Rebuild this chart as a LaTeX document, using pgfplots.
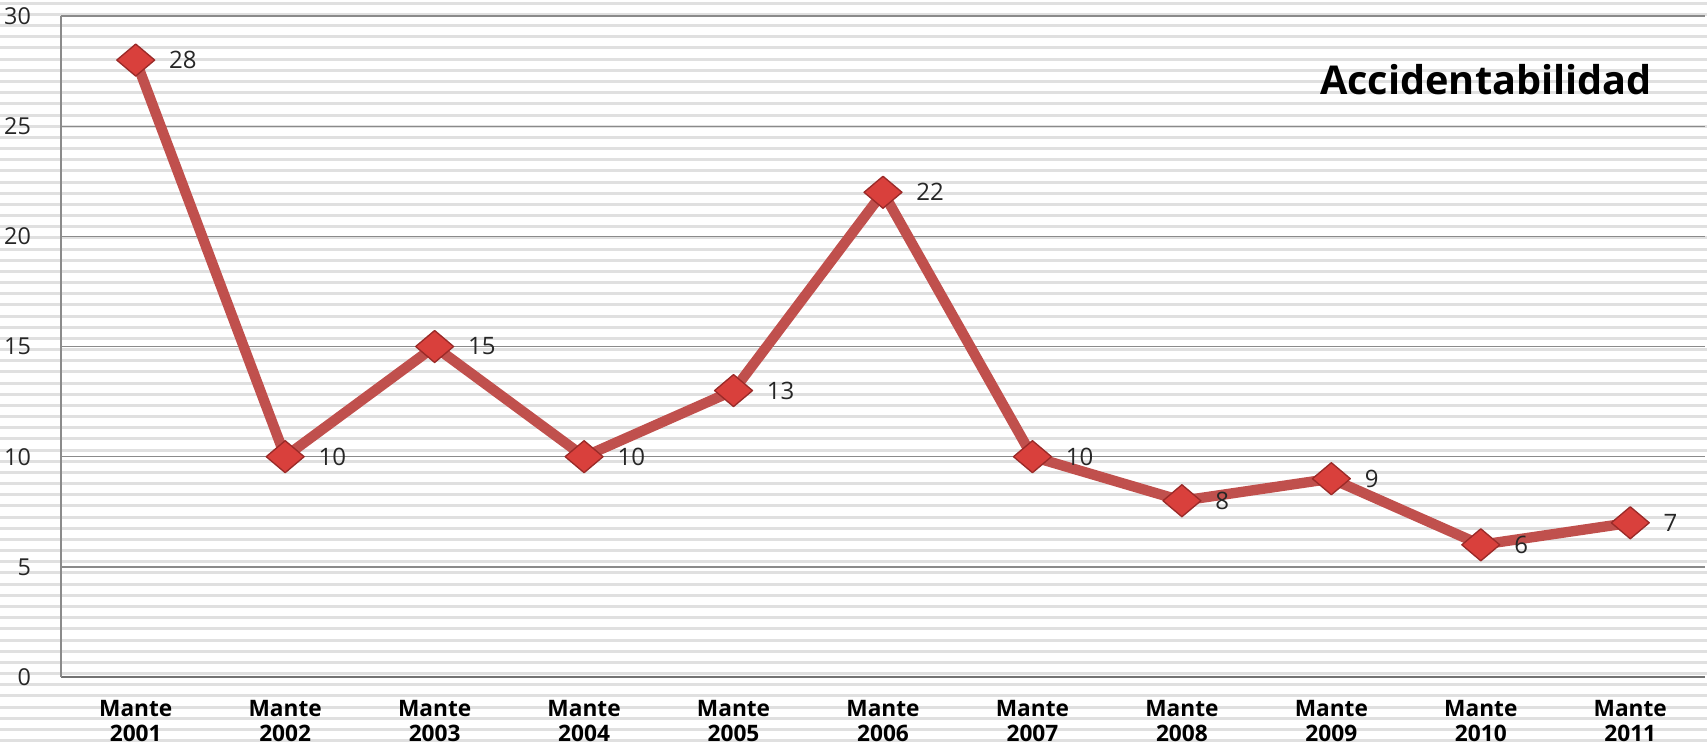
\documentclass[border=0pt]{standalone}
\usepackage{pgfplots}
\pgfplotsset{compat=1.18}
\usepackage{fontspec}
\setmainfont{Open Sans}
\definecolor{serie}{HTML}{C0504D}
\definecolor{marca}{HTML}{D9403C}
\definecolor{borde}{HTML}{9A2A28}
\definecolor{rejilla}{HTML}{8A8A8A}
\definecolor{raya}{HTML}{E0E0E0}
\begin{document}
\begin{tikzpicture}
% 1 px of the reference = 0.3pt
\path[use as bounding box] (0,0) rectangle (512.1pt,223.5pt);
\begin{scope}[x=0.3pt,y=0.3pt]
  \foreach \k in {0,...,66}
    \fill[raya] (0,{741.7-11.17*\k-1.5}) rectangle (1707,{741.7-11.17*\k+1.5});
\end{scope}
\begin{axis}[
  at={(18.3pt,20.4pt)}, anchor=south west,
  scale only axis, width=493.2pt, height=198.3pt,
  xmin=-0.5, xmax=10.5, ymin=0, ymax=30,
  ytick={0,5,...,30},
  xtick=data,
  xticklabels={{Mante\\2001},{Mante\\2002},{Mante\\2003},{Mante\\2004},{Mante\\2005},{Mante\\2006},{Mante\\2007},{Mante\\2008},{Mante\\2009},{Mante\\2010},{Mante\\2011}},
  xticklabel style={align=center, font=\fontsize{6.8}{7.6}\selectfont\bfseries, yshift=-3.4pt},
  yticklabel style={font=\fontsize{7}{8}\selectfont, xshift=-5.5pt, text=black!85},
  /pgf/number format/assume math mode=true,
  major tick length=0pt,
  axis x line=bottom, axis y line=left,
  x axis line style={-, draw=black!55, line width=0.7pt},
  y axis line style={-, draw=rejilla, line width=0.4pt},
  ymajorgrids, major grid style={draw=rejilla, line width=0.4pt},
  clip=false,
  nodes near coords,
  every node near coord/.append style={anchor=west, xshift=6.5pt,
    font=\fontsize{7.2}{8}\selectfont, text=black!85},
]
\addplot[serie, line width=3.1pt, line join=round,
  mark=diamond*, mark size=4.8pt,
  mark options={xscale=1.58, fill=marca, draw=borde, line width=0.4pt}]
  coordinates {
  (0,28) (1,10) (2,15) (3,10) (4,13) (5,22)
  (6,10) (7,8) (8,9) (9,6) (10,7)};
\end{axis}
\node[font=\fontsize{11.9}{14}\selectfont\bfseries] at (445.8pt,199.6pt) {Accidentabilidad};
\end{tikzpicture}
\end{document}
